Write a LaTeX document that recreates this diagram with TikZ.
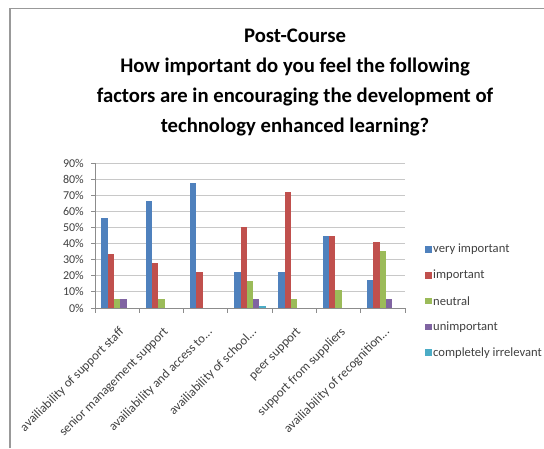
\documentclass[tikz,border=0pt]{standalone}
\usepackage{fontspec}
\setmainfont{Carlito}
\definecolor{cvi}{HTML}{4F81BD}
\definecolor{cim}{HTML}{C0504D}
\definecolor{cne}{HTML}{9BBB59}
\definecolor{cun}{HTML}{8064A2}
\definecolor{cir}{HTML}{4BACC6}
\definecolor{gridc}{HTML}{C8C8C8}
\definecolor{axisc}{HTML}{8C8C8C}
\definecolor{framec}{HTML}{999999}
\definecolor{txt}{HTML}{404040}
\tikzset{
  titletext/.style={font=\fontsize{20.7}{24}\selectfont\bfseries, text=black, inner sep=0pt, anchor=base},
  ylab/.style={font=\fontsize{12}{14}\selectfont, text=txt, inner sep=0pt, anchor=east},
  clab/.style={font=\fontsize{12.8}{14}\selectfont, text=txt, inner sep=0pt, anchor=east, rotate=45},
  legtext/.style={font=\fontsize{12.6}{14}\selectfont, text=txt, inner sep=0pt, anchor=west},
  legbox/.style={minimum size=6.5pt, inner sep=0pt, draw=none},
  gridline/.style={draw=gridc, line width=0.9pt},
  axisline/.style={draw=axisc, line width=0.9pt},
  framebox/.style={draw=framec, line width=1.2pt}
}
\newcommand{\barrow}[3]{% color, index j, values
  \foreach \v [count=\i from 0] in {#3} {
    \pgfmathsetmacro{\h}{\v*1.61111}
    \fill[#1] (95+\i*44.2857+6.3265*#2+6.3265, 308) rectangle ++(6.3265, -\h);
  }
}
\begin{document}
\begin{tikzpicture}[x=1pt,y=-1pt]
\useasboundingbox (0,0) rectangle (544,448);
\coordinate (fa) at (10,448);
\coordinate (fb) at (10,8.5);
\coordinate (fc) at (544,8.5);
\draw[framebox] (fa) -- (fb) -- (fc);
% title
\node[titletext] (t1) at (295,42.5) {Post-Course};
\node[titletext] (t2) at (295,72.5) {How important do you feel the following};
\node[titletext] (t3) at (295,102.5) {factors are in encouraging the development of};
\node[titletext] (t4) at (295,132.5) {technology enhanced learning?};
% grid
\foreach \k in {1,...,9} {
  \draw[gridline] (95,308-\k*16.1111) -- (405,308-\k*16.1111);
}
% bars
\barrow{cvi}{0}{55.6,66.7,77.8,22.2,22.2,44.4,17.6}
\barrow{cim}{1}{33.3,27.8,22.2,50.0,72.2,44.4,41.2}
\barrow{cne}{2}{5.6,5.6,0,16.7,5.6,11.1,35.3}
\barrow{cun}{3}{5.6,0,0,5.6,0,0,5.9}
\barrow{cir}{4}{0,0,0,1.2,0,0,0}
% axes
\coordinate (ytop) at (95,163);
\coordinate (orig) at (95,308);
\coordinate (xend) at (405,308);
\draw[axisline] (ytop) -- (orig) -- (xend);
\foreach \k in {0,...,9} {
  \draw[axisline] (91,308-\k*16.1111) -- (95,308-\k*16.1111);
  \pgfmathtruncatemacro{\pc}{\k*10}
  \node[ylab] (y\k) at (84,308-\k*16.1111) {\pc\%};
}
\foreach \i in {0,...,7} {
  \draw[axisline] (95+\i*44.2857,308) -- (95+\i*44.2857,313);
}
% category labels
\node[clab] (c1) at (95+0.5*44.2857+5,330) {availiability of support staff};
\node[clab] (c2) at (95+1.5*44.2857+5,330) {senior management support};
\node[clab] (c3) at (95+2.5*44.2857+5,330) {availiability and access to...};
\node[clab] (c4) at (95+3.5*44.2857+5,330) {availiability of school...};
\node[clab] (c5) at (95+4.5*44.2857+5,330) {peer support};
\node[clab] (c6) at (95+5.5*44.2857+5,330) {support from suppliers};
\node[clab] (c7) at (95+6.5*44.2857+5,330) {availiability of recognition...};
% legend
\foreach \c/\t [count=\n from 0] in {cvi/very important,cim/important,cne/neutral,cun/unimportant,cir/completely irrelevant} {
  \node[legbox, fill=\c] (lb\n) at (428.5,249.5+\n*25.8) {};
  \node[legtext] (lt\n) at (433,249.5+\n*25.8) {\t};
}
\end{tikzpicture}
\end{document}
